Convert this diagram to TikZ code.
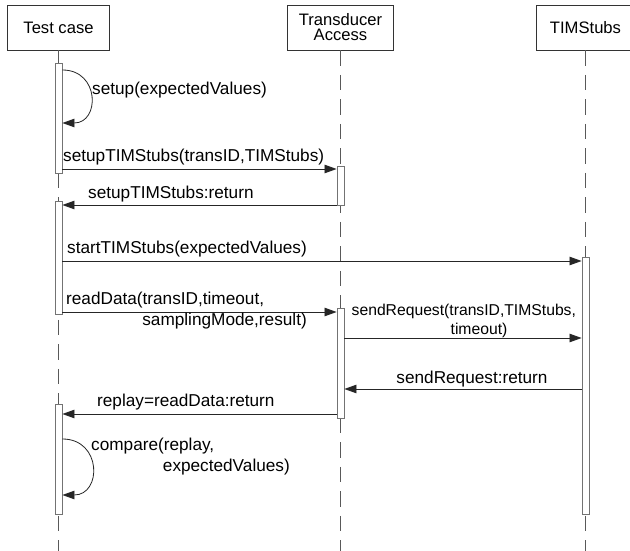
\documentclass[tikz,border=0pt]{standalone}
\usepackage{fontspec}
\setmainfont{Liberation Sans}
\usetikzlibrary{arrows.meta}
\begin{document}
\begin{tikzpicture}[x=1pt,y=-1pt,
  head/.style={draw=black!80,line width=0.8pt,fill=white,minimum height=45pt,inner sep=2pt,align=center,font=\fontsize{16.6}{17}\selectfont},
  life/.style={draw=black!65,line width=0.9pt,dash pattern=on 15.5pt off 9pt},
  act/.style={draw=black!55,line width=0.9pt,fill=white,minimum width=7pt,inner sep=0pt},
  msg/.style={draw=black!85,line width=0.8pt,-{Triangle[length=12pt,width=8.5pt]}},
  lbl/.style={font=\fontsize{17.2}{19}\selectfont,inner sep=0pt,align=left},
  smalllbl/.style={lbl,font=\fontsize{15.7}{18}\selectfont}
]
\useasboundingbox (0,0) rectangle (630,551);
\clip (0,0) rectangle (630,551);
\fill[white] (0,0) rectangle (630,551);

% participants
\node[head,minimum width=102pt] (tc) at (58.5,27.5) {Test case};
\node[head,minimum width=106pt] (ta) at (340.5,27.5) {Transducer\\[-2pt]Access};
\node[head,minimum width=98pt] (ts) at (585.5,27.5) {TIMStubs};

% lifelines
\coordinate (tcEnd) at (58.5,551);
\coordinate (taEnd) at (340.5,551);
\coordinate (tsEnd) at (585.5,551);
\draw[life] (tc.south) -- (tcEnd);
\draw[life] (ta.south) -- (taEnd);
\draw[life] (ts.south) -- (tsEnd);

% activation bars
\node[act,minimum height=110pt] (a1) at (58.5,118) {};
\node[act,minimum height=113pt] (a2) at (58.5,257.5) {};
\node[act,minimum height=110pt] (a3) at (58.5,459) {};
\node[act,minimum height=39pt] (b1) at (340.5,185.5) {};
\node[act,minimum height=110pt] (b2) at (340.5,363) {};
\node[act,minimum height=257pt] (c1) at (585.5,385.5) {};

% self call: setup
\coordinate (s1) at (a1.east |- 0,70);
\coordinate (s2) at (a1.east |- 0,123);
\draw[msg] (s1) .. controls (100,70) and (100,123) .. (s2);
\node[lbl,anchor=west] (l1) at (92,90) {setup(expectedValues)};

% setupTIMStubs
\draw[msg] (a1.east |- 0,169) -- (b1.west |- 0,169);
\node[lbl,anchor=west] (l2) at (63,157) {setupTIMStubs(transID,TIMStubs)};

% setupTIMStubs:return
\draw[msg] (b1.west |- 0,205) -- (a2.east |- 0,205);
\node[lbl,anchor=west] (l3) at (88,194) {setupTIMStubs:return};

% startTIMStubs
\draw[msg] (a2.east |- 0,261) -- (c1.west |- 0,261);
\node[lbl,anchor=west] (l4) at (67,249) {startTIMStubs(expectedValues)};

% readData
\draw[msg] (a2.east |- 0,312) -- (b2.west |- 0,312);
\node[lbl,anchor=west] (l5) at (66,300) {readData(transID,timeout,};
\node[lbl,anchor=east] (l5b) at (307,321) {samplingMode,result)};

% sendRequest
\draw[msg] (b2.east |- 0,338) -- (c1.west |- 0,338);
\node[smalllbl,anchor=west] (l6) at (351.5,311) {sendRequest(transID,TIMStubs,};
\node[smalllbl] (l6b) at (479,330) {timeout)};

% sendRequest:return
\draw[msg] (c1.west |- 0,389) -- (b2.east |- 0,389);
\node[lbl] (l7) at (472,379) {sendRequest:return};

% readData return
\draw[msg] (b2.west |- 0,414) -- (a3.east |- 0,414);
\node[lbl,anchor=west] (l8) at (97,402) {replay=readData:return};

% self call: compare
\coordinate (s3) at (a3.east |- 0,439);
\coordinate (s4) at (a3.east |- 0,495);
\draw[msg] (s3) .. controls (102,439) and (102,495) .. (s4);
\node[lbl,anchor=west] (l9) at (91,446) {compare(replay,};
\node[lbl,anchor=east] (l9b) at (290,467) {expectedValues)};
\end{tikzpicture}
\end{document}
